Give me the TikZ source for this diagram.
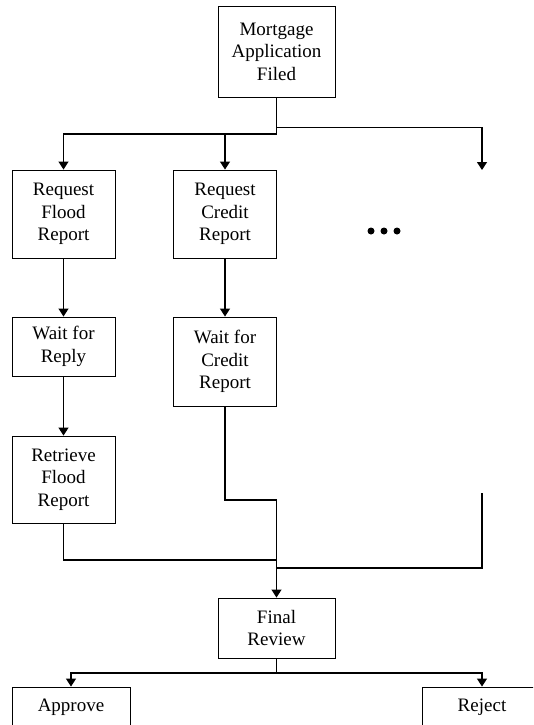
\documentclass[tikz,border=0pt]{standalone}
\usepackage{fontspec}
\setmainfont{Liberation Serif}
\usetikzlibrary{arrows.meta}
\begin{document}
\begin{tikzpicture}[x=1pt,y=-1pt,line width=1.2pt,
            every node/.style={draw,line width=0.9pt,align=center,inner sep=0pt,
              font=\fontsize{19}{22.5}\selectfont},
            flow/.style={-{Triangle[width=10pt,length=8pt]}},
            narrow/.style={minimum width=103pt},
            wide/.style={minimum width=117pt}
            ]
            \clip (0,0) rectangle (533,725);
            \node[wide,minimum height=91pt] (filed) at (276.5,51.5) {Mortgage\\Application\\Filed};
            \node[narrow,minimum height=88pt] (reqflood) at (63.5,214) {Request\\Flood\\Report};
            \node[narrow,minimum height=88pt] (reqcredit) at (225,214) {Request\\Credit\\Report};
            \node[narrow,minimum height=59pt] (waitreply) at (63.5,346.5) {Wait for\\Reply};
            \node[narrow,minimum height=89pt] (waitcredit) at (225,361.5) {Wait for\\Credit\\Report};
            \node[narrow,minimum height=87pt] (retrieve) at (63.5,479.5) {Retrieve\\Flood\\Report};
            \node[wide,minimum height=60pt] (review) at (276.5,628) {Final\\Review};
            \node[minimum width=118pt,minimum height=40pt] (approve) at (71,707) {Approve};
            \node[minimum width=120pt,minimum height=40pt] (reject) at (482,707) {Reject};
            % further branches
            \foreach \dx in {-13,0,13}
                \fill (384+\dx,231) circle (3.5pt);
            \coordinate (split) at (276.5,134);
            \coordinate (more) at (482,170);
            \coordinate (moreend) at (482,493);
            \coordinate (credjoin) at (276.5,500);
            \coordinate (join) at (276.5,560);
            \coordinate (morejoin) at (276.5,568);
            \coordinate (decide) at (276.5,673);
            \draw[flow] (filed.south) -- (split) -| (reqflood.north);
            \draw[flow] (split) -| (reqcredit.north);
            \draw[flow] (filed.south) -- ++(0,30) -| (more);
            \draw[flow] (reqflood) -- (waitreply);
            \draw[flow] (waitreply) -- (retrieve);
            \draw[flow] (reqcredit) -- (waitcredit);
            \draw (retrieve.south) |- (join);
            \draw (waitcredit.south) |- (credjoin) -- (join);
            \draw (moreend) |- (morejoin);
            \draw[flow] (join) -- (review.north);
            \draw[flow] (review.south) -- (decide) -| (approve.north);
            \draw[flow] (decide) -| (reject.north);
        \end{tikzpicture}
\end{document}
